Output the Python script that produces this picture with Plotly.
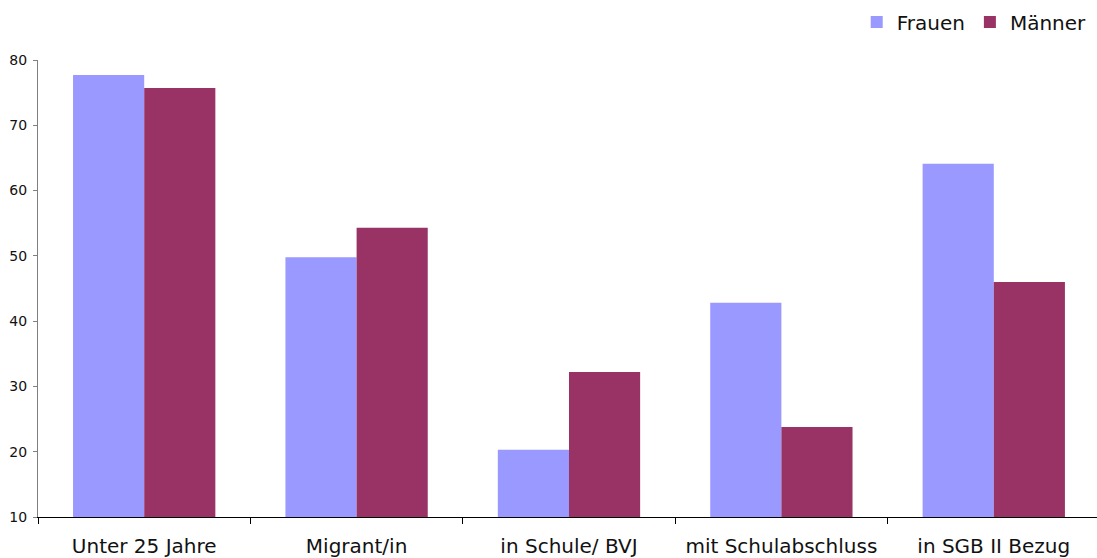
import plotly.graph_objects as go

categories = ["Unter 25 Jahre", "Migrant/in", "in Schule/ BVJ", "mit Schulabschluss", "in SGB II Bezug"]
frauen = [77.7, 49.8, 20.3, 42.8, 64.1]
maenner = [75.7, 54.3, 32.2, 23.8, 46.0]
y_ticks = [10, 20, 30, 40, 50, 60, 70, 80]

FONT = "DejaVu Sans"

fig = go.Figure()
fig.add_trace(go.Bar(name="Frauen", x=categories, y=frauen, marker_color="#9999FF",
                     marker_line_width=0))
fig.add_trace(go.Bar(name="Männer", x=categories, y=maenner, marker_color="#993366",
                     marker_line_width=0))

fig.update_layout(
    width=1097, height=558,
    margin=dict(l=38, r=0, t=60, b=41),
    paper_bgcolor="white", plot_bgcolor="white",
    barmode="group", bargap=0.33, bargroupgap=0,
    font=dict(family=FONT, color="#111111"),
    showlegend=True,
    legend=dict(orientation="h", x=0.995, xanchor="right", y=1.083, yanchor="middle",
                font=dict(family=FONT, size=20, color="#111111"),
                bgcolor="rgba(0,0,0,0)", itemwidth=30, traceorder="normal"),
)

fig.update_xaxes(
    type="category", range=[-0.5, 4.486],
    showline=True, linecolor="#000000", linewidth=1,
    ticks="outside", tickson="boundaries", ticklen=6, tickcolor="#000000",
    tickfont=dict(family=FONT, size=20, color="#111111"),
    showgrid=False, zeroline=False, ticklabelstandoff=11,
)
fig.update_yaxes(
    range=[10, 80], tickvals=y_ticks,
    showline=True, linecolor="#7f7f7f", linewidth=1,
    ticks="outside", ticklen=4, tickcolor="#7f7f7f",
    tickfont=dict(family=FONT, size=14, color="#111111"),
    showgrid=False, zeroline=False, ticklabelstandoff=3,
)

fig.write_html("out.html")
